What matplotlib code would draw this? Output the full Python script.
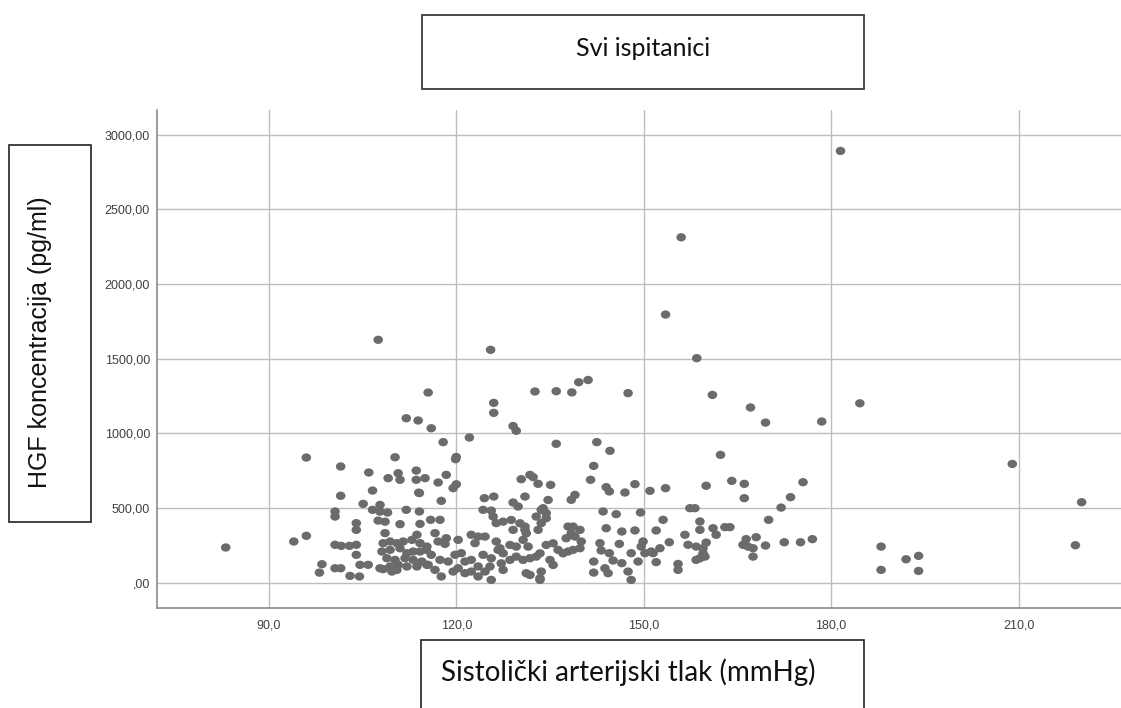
import matplotlib
matplotlib.use("Agg")
import matplotlib.pyplot as plt
from matplotlib.patches import Rectangle
from matplotlib.markers import MarkerStyle
from matplotlib.transforms import Affine2D

# ---- data ----
sbp = [
    83.1, 94.0, 96.0, 96.0, 98.5, 98.1, 100.6, 100.6, 101.5, 101.5, 100.6, 101.6, 100.6, 101.5,
    103.0, 104.5, 102.9, 104.0, 104.0, 104.0, 104.0, 104.6, 105.9, 105.1, 106.0, 106.6, 106.6,
    107.5, 107.8, 108.6, 109.1, 110.2, 110.7, 111.0, 112.0, 113.6, 113.6, 115.0, 115.5, 112.0,
    113.9, 116.0, 117.9, 122.1, 117.1, 118.4, 119.9, 120.0, 119.5, 120.0, 117.6, 114.1, 114.1,
    107.5, 125.5, 132.6, 136.0, 138.5, 139.6, 141.1, 147.5, 126.0, 126.0, 129.1, 129.6, 136.0,
    142.5, 144.6, 142.0, 141.5, 144.0, 144.5, 147.0, 148.6, 151.0, 153.5, 160.0, 162.3, 153.5,
    156.0, 158.5, 161.0, 167.1, 169.5, 178.5, 181.5, 184.6, 164.1, 166.1, 166.1, 175.5, 173.5,
    172.0, 170.0, 163.0, 163.8, 161.6, 166.4, 168.0, 165.9, 166.7, 167.5, 169.5, 167.5, 172.5,
    175.1, 177.0, 188.0, 188.0, 192.0, 194.0, 194.0, 209.0, 220.1, 219.1,
    # 138-162 region
    139.0, 138.4, 143.5, 145.6, 149.5, 157.4, 158.2, 153.1, 159.0, 159.0, 161.1, 144.0, 146.5,
    148.6, 152.0, 156.6, 157.1, 158.4, 160.0, 159.5, 158.4, 154.1, 152.6, 151.2, 149.9, 149.6,
    150.2, 151.5, 143.0, 146.1, 148.0, 143.2, 144.5, 145.1, 142.0, 143.8, 142.0, 144.3, 146.5,
    147.5, 148.0, 149.1, 152.0, 155.5, 155.5, 138.7, 139.8, 139.0, 140.0, 138.7, 139.8,
    159.5, 159.8, 159.0,
    # 115-127 region
    124.5, 126.0, 124.3, 125.6, 125.9, 126.4, 115.9, 117.4, 116.6, 117.1, 118.4, 118.2, 120.3,
    122.4, 123.5, 123.0, 124.6, 126.4, 115.2, 116.0, 117.4, 118.7, 119.8, 120.8, 121.4, 122.4,
    123.5, 124.6, 125.4, 125.6, 124.3, 125.6, 126.7, 117.6, 119.5, 115.5, 116.6, 120.3, 121.4,
    122.4, 123.5,
    # 127-138 region
    134.7, 133.6, 134.4, 131.0, 129.1, 129.9, 132.8, 133.9, 130.4, 131.8, 132.3, 133.1, 135.1,
    137.9, 138.4, 137.6, 135.5, 134.4, 136.3, 137.1, 135.0, 135.5, 133.6, 131.8, 131.2, 130.7,
    131.0, 131.5, 129.6, 128.6, 127.0, 127.5, 128.6, 129.6, 130.7, 131.8, 132.8, 133.4, 129.1,
    130.2, 128.8, 127.5, 131.2, 133.4, 127.5, 127.2, 133.6, 133.1, 134.4, 133.4, 131.0, 137.9,
    # 104-116 dense region
    108.3, 109.4, 110.5, 111.5, 112.9, 113.7, 114.2, 115.3, 108.1, 109.4, 111.0, 112.1, 113.1,
    114.2, 108.9, 110.2, 111.8, 113.1, 114.5, 109.4, 110.7, 112.1, 113.7, 115.3, 109.7, 110.5,
    107.8, 109.0, 107.8, 108.6, 111.0, 114.2, 108.3, 114.0,
]

hgf = [
    237, 277, 315, 839, 125, 69, 478, 444, 779, 583, 255, 248, 98, 98,
    47, 43, 248, 255, 400, 355, 188, 121, 121, 529, 739, 618, 489,
    417, 522, 333, 701, 841, 734, 690, 489, 752, 690, 701, 1274, 1102,
    1087, 1035, 942, 973, 672, 723, 828, 843, 634, 660, 549, 601, 478,
    1627, 1560, 1281, 1283, 1275, 1343, 1358, 1270, 1205, 1138, 1050, 1018, 931,
    942, 884, 783, 690, 641, 612, 605, 661, 616, 634, 650, 857, 1796,
    2313, 1504, 1258, 1174, 1073, 1080, 2891, 1202, 683, 663, 567, 674, 574,
    504, 422, 373, 373, 322, 293, 306, 255, 243, 232, 250, 176, 272,
    272, 293, 243, 87, 158, 181, 80, 796, 540, 252,
    # 138-162 region
    589, 556, 478, 460, 471, 500, 500, 422, 411, 355, 366, 366, 344,
    351, 351, 322, 255, 243, 270, 199, 154, 272, 232, 210, 277, 243,
    199, 199, 266, 261, 199, 217, 199, 150, 143, 98, 69, 65, 132,
    76, 20, 143, 139, 127, 87, 377, 355, 310, 277, 221, 232,
    232, 176, 165,
    # 115-127 region
    567, 578, 489, 484, 444, 400, 422, 422, 333, 277, 299, 261, 288,
    322, 310, 266, 310, 277, 221, 188, 154, 143, 188, 199, 143, 154,
    110, 76, 110, 20, 188, 165, 221, 43, 76, 121, 87, 98, 65,
    76, 43,
    # 127-138 region
    555, 488, 433, 578, 538, 511, 444, 500, 694, 723, 708, 663, 656,
    377, 332, 299, 265, 254, 221, 198, 154, 120, 76, 53, 332, 288,
    355, 243, 243, 254, 232, 198, 154, 176, 154, 165, 176, 198, 355,
    399, 421, 410, 65, 31, 87, 131, 400, 355, 467, 20, 377, 210,
    # 104-116 dense region
    266, 277, 266, 277, 288, 322, 266, 243, 210, 221, 232, 199, 210,
    210, 165, 154, 165, 154, 143, 110, 121, 110, 110, 121, 76, 87,
    98, 471, 477, 410, 393, 395, 92, 604,
]

x_ticks = [90, 120, 150, 180, 210]
x_tick_labels = ["90,0", "120,0", "150,0", "180,0", "210,0"]
y_ticks = [0, 500, 1000, 1500, 2000, 2500, 3000]
y_tick_labels = [",00", "500,00", "1000,00", "1500,00", "2000,00", "2500,00", "3000,00"]

title_text = "Svi ispitanici"
x_label_text = "Sistolički arterijski tlak (mmHg)"
y_label_text = "HGF koncentracija (pg/ml)"

# ---- figure ----
W, H = 1121, 708
fig = plt.figure(figsize=(W / 100, H / 100), dpi=100)
fig.patch.set_facecolor("white")


def fx(px):
    return px / W


def fy(py):
    return 1 - py / H


ax_l, ax_r, ax_t, ax_b = 157, 1121, 110, 608
ax = fig.add_axes([fx(ax_l), fy(ax_b), fx(ax_r) - fx(ax_l), fy(ax_t) - fy(ax_b)])
ax.set_xlim(72.1, 226.4)
ax.set_ylim(-168, 3165)

ax.set_xticks(x_ticks)
ax.set_xticklabels(x_tick_labels)
ax.set_yticks(y_ticks)
ax.set_yticklabels(y_tick_labels)
ax.tick_params(axis="both", length=0, labelsize=9, colors="#404040")
ax.tick_params(axis="x", pad=8)
ax.tick_params(axis="y", pad=5)
for lab in ax.get_xticklabels() + ax.get_yticklabels():
    lab.set_fontfamily("Liberation Sans")

ax.grid(True, color="#bdbdbd", linewidth=1.0)
ax.set_axisbelow(True)
for s in ["top", "right"]:
    ax.spines[s].set_visible(False)
for s in ["left", "bottom"]:
    ax.spines[s].set_color("#8a8a8a")
    ax.spines[s].set_linewidth(1.2)

dot = MarkerStyle("o", transform=Affine2D().scale(1.15, 1.0))
ax.scatter(sbp, hgf, s=36, marker=dot, color="#6b6b6b", edgecolors="none", zorder=3)

# ---- boxes with labels ----
def box(x0, y0, x1, y1, lw=1.0, color="#222222"):
    r = Rectangle((fx(x0), fy(y1)), fx(x1) - fx(x0), fy(y0) - fy(y1),
                  transform=fig.transFigure, facecolor="white",
                  edgecolor=color, linewidth=lw, clip_on=False)
    fig.add_artist(r)


box(422, 15, 864, 89, lw=1.3, color="#3a3a3a")
fig.text(fx(643), fy(48), title_text, ha="center", va="center",
         fontsize=18, family="Lato", color="#111111")

box(421, 640, 864, 712, lw=1.2, color="#222222")
fig.text(fx(441), fy(672), x_label_text, ha="left", va="center",
         fontsize=20, family="Lato", color="#111111")

box(9, 145, 91, 522, lw=1.2, color="#222222")
fig.text(fx(40), fy(342), y_label_text, ha="center", va="center",
         rotation=90, fontsize=18, family="Liberation Sans", color="#111111")

fig.savefig("out.png", dpi=100)
